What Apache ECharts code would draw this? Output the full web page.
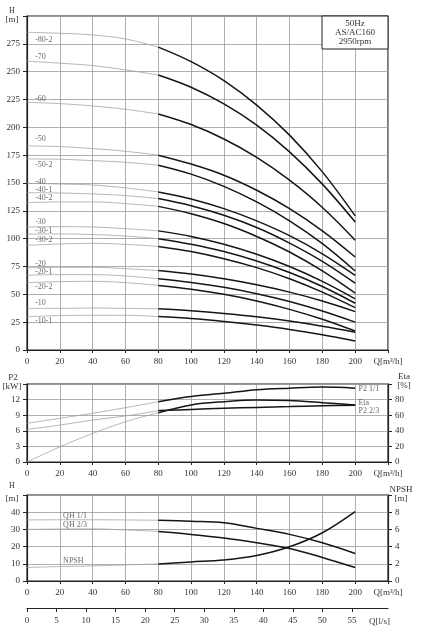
<!DOCTYPE html>
<html><head><meta charset="utf-8">
<script src="https://cdn.jsdelivr.net/npm/echarts@6/dist/echarts.min.js"></script>
<style>html,body{margin:0;padding:0;background:#fff}#c{width:435px;height:642px}</style>
</head><body><div id="c"></div>
<script>
// ---- data ----
const qGray = [0, 20, 40, 60, 80];
const qBlack = [80, 100, 120, 140, 160, 180, 200];
const lsTicks = [0, 5, 10, 15, 20, 25, 30, 35, 40, 45, 50, 55];

const curveNames = ['-80-2','-70','-60','-50','-50-2','-40','-40-1','-40-2','-30','-30-1','-30-2','-20','-20-1','-20-2','-10','-10-1'];
const headGray = [
  [285.4, 284.5, 283.0, 279.4, 272.0],
  [259.4, 257.6, 255.5, 251.6, 247.0],
  [222.5, 221.3, 219.2, 216.2, 212.0],
  [183.3, 182.7, 180.9, 178.5, 175.0],
  [171.6, 171.3, 170.1, 168.6, 166.0],
  [149.7, 149.1, 148.2, 145.6, 142.0],
  [141.3, 141.0, 140.2, 138.7, 136.0],
  [132.3, 133.0, 133.0, 131.5, 129.0],
  [110.5, 110.8, 110.5, 109.0, 107.0],
  [104.0, 104.3, 103.7, 102.4, 100.0],
  [94.1, 95.2, 95.8, 94.9, 93.0],
  [73.7, 74.3, 74.3, 73.1, 71.3],
  [67.1, 67.7, 67.7, 66.5, 64.0],
  [60.5, 61.4, 61.7, 60.5, 58.0],
  [37.4, 37.4, 37.7, 37.4, 37.0],
  [30.0, 30.9, 31.2, 31.2, 30.0]
];
const headBlack = [
  [272, 259, 242, 220, 193, 160, 120.5],
  [247, 236, 221, 202, 178, 149, 115],
  [212, 202.5, 189.5, 173, 152.5, 128, 98.5],
  [175, 167, 157, 143.5, 127, 107, 83.5],
  [166, 158, 147, 133, 116, 95.5, 71],
  [142, 135.7, 127, 116, 102.7, 86.4, 67],
  [136, 129.6, 121, 110, 96, 79.6, 60],
  [129, 122.4, 113.6, 102, 88, 71, 51],
  [107, 102, 95, 86, 75, 61.7, 46],
  [100, 95, 88.5, 80, 69.6, 57, 42],
  [93, 88.4, 82, 74, 64, 52, 38],
  [71.3, 68.2, 64, 58.6, 52, 44, 34.5],
  [64, 60.7, 56.3, 50.6, 43.6, 35, 25],
  [58, 54.6, 50, 44, 36.5, 27.6, 17],
  [37, 35.2, 32.8, 29.8, 26, 21.4, 16],
  [30, 28.2, 25.6, 22.4, 18.5, 13.7, 8]
];
const curveLabelQ = 5;
const curveLabelH = [278.5, 263.3, 225.5, 189.6, 166.5, 151.2, 143.8, 136.3, 115.3, 107, 98.8, 77.3, 69.8, 56.6, 42.2, 26.1];

const p2FullGray = [7.43, 8.4, 9.37, 10.45, 11.6];
const p2FullBlack = [11.6, 12.6, 13.2, 13.9, 14.2, 14.4, 14.2];
const p2TwoThirdsGray = [6.27, 7.1, 8.07, 8.85, 9.88];
const p2TwoThirdsBlack = [9.88, 10.1, 10.33, 10.5, 10.65, 10.8, 10.9];
const etaGray = [0, 19.4, 36.6, 51.6, 63.2];
const etaBlack = [63.2, 73.2, 77.4, 79.6, 78.7, 76.1, 73.2];
const powerLabelNames = ['P2 1/1', 'Eta', 'P2 2/3'];
const powerLabelQ = 202;
const powerLabelKw = [14.07, 11.36, 9.8];

const qhFullGray = [35.5, 35.6, 35.6, 35.5, 35.3];
const qhFullBlack = [35.3, 34.7, 33.8, 30.6, 27.1, 22.2, 16.0];
const qhTwoThirdsGray = [30.0, 30.2, 30.3, 29.7, 28.8];
const qhTwoThirdsBlack = [28.8, 27.1, 25.0, 22.2, 18.9, 13.7, 7.8];
const npshGray = [1.57, 1.68, 1.76, 1.87, 1.99];
const npshBlack = [1.99, 2.22, 2.45, 2.97, 3.98, 5.61, 8.07];
const lowerLabelNames = ['QH 1/1', 'QH 2/3', 'NPSH'];
const lowerLabelQ = 22;
const lowerLabelH = [38, 32.6, 11.7];

const infoLines = ['50Hz', 'AS/AC160', '2950rpm'];

// ---- chart ----
const FONT = '"Liberation Serif", "DejaVu Serif", serif';
const TXT = '#333';
const chart = echarts.init(document.getElementById('c'), null, {renderer: 'canvas'});

function seg(xs, ys, black, xi, yi) {
  return {
    type: 'line', xAxisIndex: xi, yAxisIndex: yi,
    data: xs.map((x, k) => [x, ys[k]]),
    smooth: 0.35, showSymbol: false, symbol: 'none', silent: true,
    lineStyle: black ? {color: '#151515', width: 1.5} : {color: '#a3a3a3', width: 0.8},
    z: black ? 4 : 3
  };
}
function labels(names, xs, ys, xi, yi, size) {
  return {
    type: 'scatter', xAxisIndex: xi, yAxisIndex: yi, symbolSize: 0, silent: true, z: 5,
    data: names.map((n, i) => ({name: n, value: [Array.isArray(xs) ? xs[i] : xs, ys[i]]})),
    label: {show: true, position: 'right', distance: 0, formatter: '{b}', fontSize: size, color: '#444', fontFamily: FONT}
  };
}
function xAx(gi) {
  return {
    type: 'value', gridIndex: gi, min: 0, max: 220, interval: 20,
    axisLine: {show: true, onZero: false, lineStyle: {color: '#222', width: 1.2}},
    axisTick: {show: true, length: 3, lineStyle: {color: '#222'}},
    axisLabel: {fontFamily: FONT, fontSize: 9, color: TXT, margin: 7,
      formatter: v => v === 220 ? 'Q[m³/h]' : String(v)},
    splitLine: {show: true, lineStyle: {color: '#9a9a9a', width: 0.8}}
  };
}
function yAx(gi, max, interval, right, split) {
  return {
    type: 'value', gridIndex: gi, min: 0, max: max, interval: interval,
    position: right ? 'right' : 'left',
    axisLine: {show: true, onZero: false, lineStyle: {color: '#222', width: 1.2}},
    axisTick: {show: true, length: 4, lineStyle: {color: '#222'}},
    axisLabel: {fontFamily: FONT, fontSize: 9, color: TXT, margin: 7,
      formatter: v => v === max ? '' : String(v)},
    splitLine: {show: split, lineStyle: {color: '#9a9a9a', width: 0.8}}
  };
}

const series = [];
curveNames.forEach((n, i) => {
  series.push(seg(qGray, headGray[i], false, 0, 0));
  series.push(seg(qBlack, headBlack[i], true, 0, 0));
});
series.push(labels(curveNames, curveLabelQ, curveLabelH, 0, 0, 8));

series.push(seg(qGray, p2FullGray, false, 1, 1));
series.push(seg(qBlack, p2FullBlack, true, 1, 1));
series.push(seg(qGray, p2TwoThirdsGray, false, 1, 1));
series.push(seg(qBlack, p2TwoThirdsBlack, true, 1, 1));
series.push(seg(qGray, etaGray, false, 1, 2));
series.push(seg(qBlack, etaBlack, true, 1, 2));
series.push(labels(powerLabelNames, powerLabelQ, powerLabelKw, 1, 1, 8));

series.push(seg(qGray, qhFullGray, false, 2, 3));
series.push(seg(qBlack, qhFullBlack, true, 2, 3));
series.push(seg(qGray, qhTwoThirdsGray, false, 2, 3));
series.push(seg(qBlack, qhTwoThirdsBlack, true, 2, 3));
series.push(seg(qGray, npshGray, false, 2, 4));
series.push(seg(qBlack, npshBlack, true, 2, 4));
series.push(labels(lowerLabelNames, lowerLabelQ, lowerLabelH, 2, 3, 8));

function txt(t, x, y, size) {
  return {type: 'text', z: 101, silent: true,
    style: {text: t, x: x, y: y, font: (size || 9) + 'px ' + FONT, fill: TXT,
      align: 'center', verticalAlign: 'middle', textAlign: 'center', textVerticalAlign: 'middle'}};
}
const gridStyle = {show: true, borderColor: '#222', borderWidth: 1.2, backgroundColor: 'transparent', outerBoundsMode: 'none', containLabel: false};

chart.setOption({
  animation: false,
  backgroundColor: '#fff',
  grid: [
    Object.assign({left: 27, right: 47, top: 16, height: 334}, gridStyle),
    Object.assign({left: 27, right: 47, top: 384, height: 78}, gridStyle),
    Object.assign({left: 27, right: 47, top: 495, height: 86}, gridStyle),
    {left: 27, right: 47, top: 607, height: 1, show: false, outerBoundsMode: 'none', containLabel: false}
  ],
  xAxis: [xAx(0), xAx(1), xAx(2), {
    type: 'value', gridIndex: 3, min: 0, max: 220 / 3.6, interval: 5,
    axisLine: {show: true, onZero: false, lineStyle: {color: '#222', width: 1.2}},
    axisTick: {show: true, length: 4, customValues: lsTicks, lineStyle: {color: '#222'}},
    axisLabel: {fontFamily: FONT, fontSize: 9, color: TXT, margin: 8, customValues: lsTicks,
      formatter: v => (v > 57 ? '' : String(v))},
    splitLine: {show: false},
    name: 'Q[l/s]', nameLocation: 'end', nameGap: 2,
    nameTextStyle: {fontFamily: FONT, fontSize: 9, color: TXT, align: 'right', verticalAlign: 'top', padding: [9, 0, 0, 0]}
  }],
  yAxis: [
    yAx(0, 300, 25, false, true),
    yAx(1, 15, 3, false, true),
    yAx(1, 100, 20, true, false),
    yAx(2, 50, 10, false, true),
    yAx(2, 10, 2, true, false),
    {type: 'value', gridIndex: 3, show: false, min: 0, max: 1}
  ],
  series: series,
  graphic: [
    {type: 'rect', z: 100, silent: true, shape: {x: 322, y: 16, width: 66, height: 33},
      style: {fill: '#fff', stroke: '#222', lineWidth: 1}},
    txt(infoLines[0], 355, 24),
    txt(infoLines[1], 355, 33),
    txt(infoLines[2], 355, 42),
    txt('H', 12, 11, 8), txt('[m]', 12, 20),
    txt('P2', 13, 378), txt('[kW]', 12, 387),
    txt('Eta', 404, 377), txt('[%]', 404, 386),
    txt('H', 12, 486, 8), txt('[m]', 12, 499),
    txt('NPSH', 401, 490), txt('[m]', 401, 499)
  ]
});
</script></body></html>
